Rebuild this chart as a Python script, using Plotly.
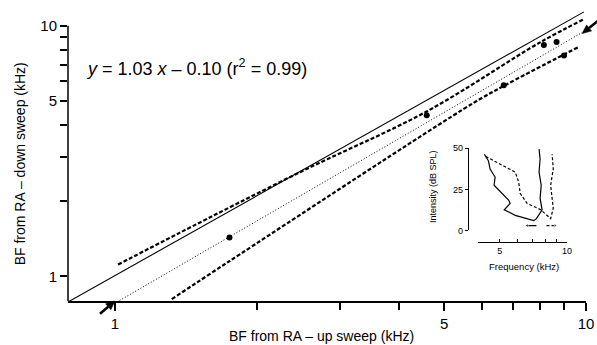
import numpy as np
import plotly.graph_objects as go

# ---------------- data ----------------
up_bf = [1.75, 4.59, 6.69, 8.14, 8.66, 8.98]        # BF from RA - up sweep (kHz)
down_bf = [1.43, 4.39, 5.78, 8.37, 8.60, 7.61]      # BF from RA - down sweep (kHz)

unity_x = [0.795, 9.90]
unity_y = [0.791, 11.35]

fit_x = [1.01, 9.81]
fit_y = [0.791, 9.39]

upper_x = [1.015, 1.374, 2.47, 4.60, 7.99, 9.85]
upper_y = [1.115, 1.495, 2.604, 4.56, 8.58, 10.56]

lower_x = [1.32, 1.755, 5.75, 6.70, 9.62]
lower_y = [0.812, 1.155, 4.90, 5.76, 8.20]

# points marked by arrows (ends of the fitted line)
arrow_x = [1.0, 9.81]
arrow_y = [0.798, 9.30]

major_ticks = [1, 5, 10]
major_text = ["1", "5", "10"]
minor_ticks = [2, 3, 4, 6, 7, 8, 9]

# inset tuning curves
up_curve_f = [4.27, 4.45, 4.53, 4.77, 4.72, 5.03, 5.48, 5.57, 5.24, 5.87, 6.51, 7.10,
              7.30, 7.74, 7.58, 7.67, 7.50, 7.58, 7.50]
up_curve_db = [46.4, 42.5, 37.4, 32.5, 27.5, 23.9, 18.5, 16.5, 12.6, 9.2, 7.2, 6.0,
               7.2, 12.6, 19.5, 27.5, 35.5, 43.4, 49.5]
down_curve_f = [4.33, 5.03, 5.87, 6.08, 6.18, 6.63, 7.64, 8.45, 8.68, 8.45, 8.68, 8.58]
down_curve_db = [45.0, 40.4, 35.5, 29.5, 22.5, 16.5, 12.6, 7.2, 13.5, 27.5, 37.4, 46.4]
up_bf_mark_f = [6.63, 7.30]
down_bf_mark_f = [8.10, 8.85]
bf_mark_db = [3, 3]

inset_x_ticks = [5, 10]
inset_x_text = ["5", "10"]
inset_x_minor = [4, 6, 7, 8, 9]
inset_y_ticks = [0, 25, 50]

# ---------------- layout geometry ----------------
W, H = 597, 345
L, R, T, B = 68, 11, 0, 44
PW, PH = W - L - R, H - T - B
x_range = [-0.0998, 1.0]
y_range = [-0.098, 1.0824]


def px_x(px):
    return (px - L) / PW


def px_y(py):
    return (H - B - py) / PH


def data_to_paper(x, y):
    return ((np.log10(x) - x_range[0]) / (x_range[1] - x_range[0]),
            (np.log10(y) - y_range[0]) / (y_range[1] - y_range[0]))


def arrow_shapes(x, y, dx_px, dy_px, head_len=9, head_half=4, shaft=2.5):
    """Arrow whose tip is at data (x, y) and tail offset by (dx_px, dy_px) screen px."""
    tx, ty = data_to_paper(x, y)
    tip_px = np.array([tx * PW, ty * PH])          # paper pixels, y up
    tail_px = tip_px + np.array([dx_px, -dy_px])
    d = tip_px - tail_px
    d = d / np.linalg.norm(d)
    n = np.array([-d[1], d[0]])
    base = tip_px - d * head_len
    p1 = base + n * head_half
    p2 = base - n * head_half

    def P(p):
        return f"{p[0] / PW:.5f},{p[1] / PH:.5f}"

    return [
        dict(type="line", xref="paper", yref="paper",
             x0=tail_px[0] / PW, y0=tail_px[1] / PH, x1=base[0] / PW, y1=base[1] / PH,
             line=dict(color="black", width=shaft)),
        dict(type="path", xref="paper", yref="paper",
             path=f"M{P(tip_px)} L{P(p1)} L{P(p2)} Z",
             fillcolor="black", line=dict(color="black", width=0.5)),
    ]


FONT = "Liberation Sans, Arial, sans-serif"
BLACK = "black"

fig = go.Figure()

fig.add_trace(go.Scatter(x=unity_x, y=unity_y, mode="lines",
                         line=dict(color=BLACK, width=1.1), hoverinfo="skip"))
fig.add_trace(go.Scatter(x=fit_x, y=fit_y, mode="lines",
                         line=dict(color=BLACK, width=1, dash="1px,2px"), hoverinfo="skip"))
fig.add_trace(go.Scatter(x=upper_x, y=upper_y, mode="lines", line_shape="spline",
                         line=dict(color=BLACK, width=2.2, dash="4px,2px"), hoverinfo="skip"))
fig.add_trace(go.Scatter(x=lower_x, y=lower_y, mode="lines", line_shape="spline",
                         line=dict(color=BLACK, width=2.2, dash="4px,2px"), hoverinfo="skip"))
fig.add_trace(go.Scatter(x=up_bf, y=down_bf, mode="markers",
                         marker=dict(color=BLACK, size=6)))

# inset
fig.add_trace(go.Scatter(x=up_curve_f, y=up_curve_db, mode="lines", xaxis="x2", yaxis="y2",
                         line=dict(color=BLACK, width=1.2)))
fig.add_trace(go.Scatter(x=down_curve_f, y=down_curve_db, mode="lines", xaxis="x2", yaxis="y2",
                         line=dict(color=BLACK, width=1.2, dash="3px,2px")))
fig.add_trace(go.Scatter(x=up_bf_mark_f, y=bf_mark_db, mode="lines+markers", xaxis="x2", yaxis="y2",
                         line=dict(color=BLACK, width=1.2),
                         marker=dict(symbol=["triangle-left", "line-ns"], size=[4, 0], color=BLACK)))
fig.add_trace(go.Scatter(x=down_bf_mark_f, y=bf_mark_db, mode="lines+markers", xaxis="x2", yaxis="y2",
                         line=dict(color=BLACK, width=1.2, dash="3px,2px"),
                         marker=dict(symbol=["line-ns", "triangle-right"], size=[0, 4], color=BLACK)))

y10_frac = (1 - y_range[0]) / (y_range[1] - y_range[0])

shapes = [dict(type="line", xref="paper", yref="paper", x0=0, x1=0, y0=0, y1=y10_frac,
               line=dict(color=BLACK, width=1.5))]
shapes += arrow_shapes(arrow_x[0], arrow_y[0], -15, 13)
shapes += arrow_shapes(arrow_x[1], arrow_y[1], 16, -13)

annotations = [
    dict(text="<i>y</i> = 1.03 <i>x</i> – 0.10 (r<sup>2</sup> = 0.99)", xref="paper", yref="paper",
         x=px_x(196), y=px_y(64), xanchor="center", yanchor="middle", showarrow=False,
         font=dict(size=18, family=FONT, color=BLACK)),
    dict(text="BF from RA – up sweep (kHz)", xref="paper", yref="paper",
         x=px_x(321), y=px_y(337), xanchor="center", yanchor="middle", showarrow=False,
         font=dict(size=14, family=FONT, color=BLACK)),
    dict(text="BF from RA – down sweep (kHz)", xref="paper", yref="paper", textangle=-90,
         x=px_x(20), y=px_y(162), xanchor="center", yanchor="middle", showarrow=False,
         font=dict(size=14, family=FONT, color=BLACK)),
    dict(text="Intensity (dB SPL)", xref="paper", yref="paper", textangle=-90,
         x=px_x(433), y=px_y(185), xanchor="center", yanchor="middle", showarrow=False,
         font=dict(size=9, family=FONT, color=BLACK)),
    dict(text="Frequency (kHz)", xref="paper", yref="paper",
         x=px_x(524), y=px_y(266), xanchor="center", yanchor="middle", showarrow=False,
         font=dict(size=9.5, family=FONT, color=BLACK)),
]

main_minor = dict(tickvals=minor_ticks, ticks="outside", ticklen=7, tickwidth=1.5,
                  tickcolor=BLACK, showgrid=False)

fig.update_layout(
    width=W, height=H,
    margin=dict(l=L, r=R, t=T, b=B, pad=0),
    paper_bgcolor="white", plot_bgcolor="white",
    showlegend=False,
    font=dict(family=FONT, color=BLACK, size=15),
    xaxis=dict(type="log", range=x_range, tickvals=major_ticks, ticktext=major_text,
               ticks="outside", ticklen=8, tickwidth=1.5, tickcolor=BLACK, minor=main_minor,
               showline=True, linewidth=1.5, linecolor=BLACK, showgrid=False, zeroline=False,
               tickfont=dict(size=15, family=FONT), fixedrange=True),
    yaxis=dict(type="log", range=y_range, tickvals=major_ticks, ticktext=major_text,
               ticks="outside", ticklen=7, tickwidth=1.5, tickcolor=BLACK, minor=main_minor,
               showline=False, showgrid=False, zeroline=False,
               tickfont=dict(size=15, family=FONT), fixedrange=True),
    xaxis2=dict(type="log", range=[np.log10(4), 1.0], domain=[px_x(478), px_x(567)],
                anchor="free", position=px_y(241), tickvals=inset_x_ticks, ticktext=inset_x_text,
                ticks="inside", ticklen=3, tickwidth=1, tickcolor=BLACK,
                minor=dict(tickvals=inset_x_minor, ticks="inside", ticklen=3, tickwidth=1,
                           tickcolor=BLACK, showgrid=False),
                showline=True, linewidth=1.2, linecolor=BLACK, showgrid=False, zeroline=False,
                tickfont=dict(size=9, family=FONT)),
    yaxis2=dict(range=[0, 50], domain=[px_y(229.3), px_y(145.7)],
                anchor="free", position=px_x(468), tickvals=inset_y_ticks,
                ticks="outside", ticklen=3, tickwidth=1, tickcolor=BLACK,
                showline=True, linewidth=1.2, linecolor=BLACK, showgrid=False, zeroline=False,
                tickfont=dict(size=9, family=FONT)),
    shapes=shapes,
    annotations=annotations,
)

fig.write_html("out.html")
